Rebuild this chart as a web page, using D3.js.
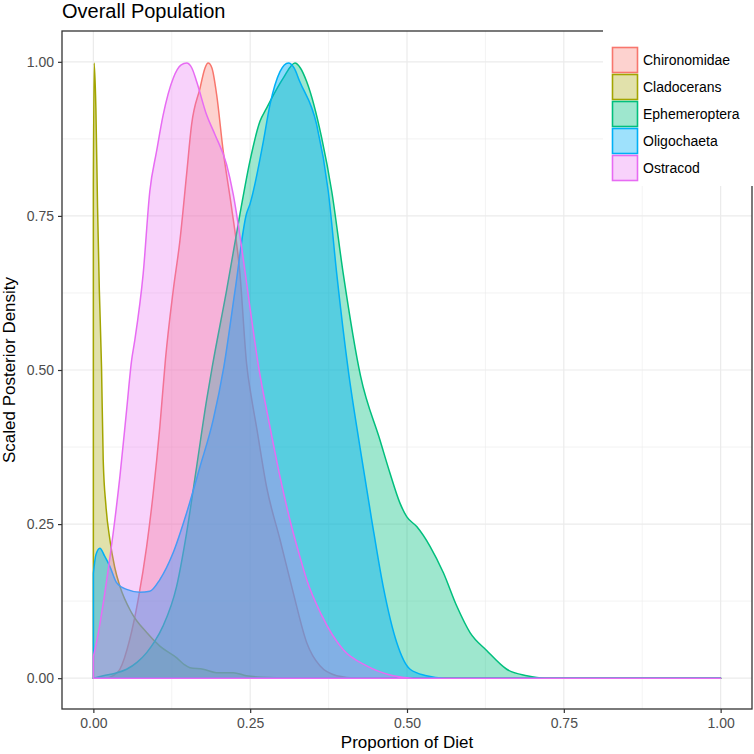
<!DOCTYPE html>
<html>
<head>
<meta charset="utf-8">
<script src="https://cdn.jsdelivr.net/npm/d3@7"></script>
<style>
  html, body { margin: 0; padding: 0; background: #fff; }
  svg { display: block; font-family: "Liberation Sans", Arial, sans-serif; }
</style>
</head>
<body>
<div id="chart"></div>
<script>
// Posterior density curves ([proportion, scaled density])
const chironomidae = [
  [0, 0], [0.02, 0], [0.0316, 0.004], [0.0423, 0.0145], [0.058, 0.063], [0.0715, 0.128],
  [0.085, 0.214], [0.0954, 0.300], [0.106, 0.408], [0.115, 0.518], [0.1273, 0.629],
  [0.138, 0.71], [0.1486, 0.817], [0.1566, 0.898], [0.170, 0.957], [0.178, 0.99],
  [0.183, 0.998], [0.189, 0.99], [0.1965, 0.947], [0.207, 0.855], [0.2204, 0.763],
  [0.2337, 0.656], [0.2443, 0.51], [0.252, 0.455], [0.260, 0.408], [0.276, 0.311],
  [0.2975, 0.225], [0.3187, 0.1385], [0.340, 0.058], [0.3612, 0.02], [0.388, 0.004],
  [0.42, 0], [1, 0]
];
const cladocerans = [
  [0, 0.8], [0.0013, 0.998], [0.004, 0.925], [0.0067, 0.763], [0.0095, 0.63],
  [0.013, 0.505], [0.0157, 0.354], [0.020, 0.28], [0.0263, 0.225], [0.034, 0.18],
  [0.0423, 0.149], [0.061, 0.106], [0.085, 0.074], [0.106, 0.052], [0.133, 0.033],
  [0.145, 0.022], [0.154, 0.017], [0.175, 0.0145], [0.196, 0.009], [0.223, 0.009],
  [0.244, 0.004], [0.28, 0.001], [0.33, 0], [1, 0]
];
const ephemeroptera = [
  [0, 0], [0.0157, 0.004], [0.035, 0.008], [0.053, 0.0145], [0.07, 0.026], [0.085, 0.0415],
  [0.098, 0.06], [0.111, 0.0845], [0.1327, 0.149], [0.1486, 0.2355], [0.1646, 0.343],
  [0.1805, 0.451], [0.1895, 0.505], [0.2124, 0.629], [0.2337, 0.753], [0.2496, 0.839],
  [0.2656, 0.9035], [0.2762, 0.925], [0.2975, 0.965], [0.3027, 0.9735], [0.3214, 0.998],
  [0.330, 0.99], [0.340, 0.968], [0.364, 0.8765], [0.380, 0.790], [0.3984, 0.656],
  [0.426, 0.49], [0.457, 0.386], [0.4729, 0.3325], [0.4888, 0.284], [0.4995, 0.262],
  [0.5155, 0.246], [0.5367, 0.214], [0.558, 0.171], [0.5793, 0.117], [0.6005, 0.074],
  [0.627, 0.045], [0.659, 0.0145], [0.691, 0.004], [0.72, 0], [1, 0]
];
const oligochaeta = [
  [0, 0.17], [0.004, 0.2], [0.0104, 0.211], [0.018, 0.198], [0.0263, 0.1815],
  [0.037, 0.155], [0.053, 0.144], [0.074, 0.1395], [0.090, 0.141], [0.106, 0.16],
  [0.127, 0.203], [0.1486, 0.268], [0.170, 0.343], [0.191, 0.419], [0.208, 0.505],
  [0.226, 0.63], [0.244, 0.753], [0.2496, 0.769], [0.271, 0.871], [0.2815, 0.930],
  [0.2975, 0.984], [0.311, 0.998], [0.320, 0.99], [0.329, 0.968], [0.356, 0.898],
  [0.3745, 0.790], [0.388, 0.656], [0.4064, 0.4995], [0.425, 0.375], [0.4437, 0.257],
  [0.462, 0.149], [0.4836, 0.058], [0.505, 0.0145], [0.531, 0.004], [0.56, 0], [1, 0]
];
const ostracod = [
  [0, 0.035], [0.005, 0.058], [0.0183, 0.1385], [0.0316, 0.2355], [0.0423, 0.327],
  [0.053, 0.435], [0.061, 0.516], [0.066, 0.548], [0.0794, 0.656], [0.090, 0.790],
  [0.1008, 0.855], [0.1113, 0.914], [0.1273, 0.9735], [0.140, 0.995], [0.1486, 0.998],
  [0.157, 0.99], [0.1646, 0.968], [0.1805, 0.914], [0.1938, 0.882], [0.2124, 0.8335],
  [0.223, 0.785], [0.2364, 0.699], [0.2496, 0.602], [0.263, 0.508], [0.2815, 0.408],
  [0.2975, 0.327], [0.3187, 0.2355], [0.329, 0.198], [0.340, 0.16], [0.3635, 0.103],
  [0.3984, 0.046], [0.4357, 0.02], [0.478, 0.004], [0.51, 0], [1, 0]
];

const groups = ['Chironomidae', 'Cladocerans', 'Ephemeroptera', 'Oligochaeta', 'Ostracod'];
const groupData = [chironomidae, cladocerans, ephemeroptera, oligochaeta, ostracod];
const groupColors = ['#F8766D', '#A3A500', '#00BF7D', '#00B0F6', '#E76BF3'];
// fill strength per group, tuned against the reference overlaps
const fillAlpha = [0.33, 0.33, 0.38, 0.45, 0.3];

const xTicks = [0, 0.25, 0.5, 0.75, 1];
const yTicks = [0, 0.25, 0.5, 0.75, 1];
const minorTicks = [0.125, 0.375, 0.625, 0.875];

const W = 754, H = 754;
const panel = { left: 62, top: 31, right: 752, bottom: 709 };

const svg = d3.select('#chart').append('svg')
  .attr('width', W).attr('height', H)
  .attr('viewBox', `0 0 ${W} ${H}`);

const x = d3.scaleLinear().domain([-0.05, 1.05]).range([panel.left, panel.right]);
const y = d3.scaleLinear().domain([-0.05, 1.05]).range([panel.bottom, panel.top]);

// Panel background + grid
svg.append('rect')
  .attr('x', panel.left).attr('y', panel.top)
  .attr('width', panel.right - panel.left).attr('height', panel.bottom - panel.top)
  .attr('fill', '#fff');

const grid = svg.append('g');
minorTicks.forEach(t => {
  grid.append('line')
    .attr('x1', x(t)).attr('x2', x(t)).attr('y1', panel.top).attr('y2', panel.bottom)
    .attr('stroke', '#EBEBEB').attr('stroke-width', 0.6);
  grid.append('line')
    .attr('y1', y(t)).attr('y2', y(t)).attr('x1', panel.left).attr('x2', panel.right)
    .attr('stroke', '#EBEBEB').attr('stroke-width', 0.6);
});
xTicks.forEach(t => {
  grid.append('line')
    .attr('x1', x(t)).attr('x2', x(t)).attr('y1', panel.top).attr('y2', panel.bottom)
    .attr('stroke', '#EBEBEB').attr('stroke-width', 1.2);
});
yTicks.forEach(t => {
  grid.append('line')
    .attr('y1', y(t)).attr('y2', y(t)).attr('x1', panel.left).attr('x2', panel.right)
    .attr('stroke', '#EBEBEB').attr('stroke-width', 1.2);
});

// Density polygons: fill then full outline, drawn in group order
const area = d3.area()
  .x(d => x(d[0]))
  .y0(y(0))
  .y1(d => y(d[1]))
  .curve(d3.curveMonotoneX);

svg.append('clipPath').attr('id', 'panel-clip')
  .append('rect')
  .attr('x', panel.left).attr('y', panel.top)
  .attr('width', panel.right - panel.left).attr('height', panel.bottom - panel.top);
const plot = svg.append('g')
  .attr('clip-path', 'url(#panel-clip)');

groupData.forEach((pts, i) => {
  plot.append('path')
    .datum(pts)
    .attr('d', d => area(d) + 'Z')
    .attr('fill', groupColors[i])
    .attr('fill-opacity', fillAlpha[i])
    .attr('stroke', groupColors[i])
    .attr('stroke-width', 1.5)
    .attr('stroke-linejoin', 'round');
});

// Panel border
svg.append('rect')
  .attr('x', panel.left).attr('y', panel.top)
  .attr('width', panel.right - panel.left).attr('height', panel.bottom - panel.top)
  .attr('fill', 'none').attr('stroke', '#333333').attr('stroke-width', 1.3);

// Axes
const xAxis = svg.append('g')
  .attr('transform', `translate(0, ${panel.bottom})`)
  .call(d3.axisBottom(x).tickValues(xTicks).tickFormat(d3.format('.2f')).tickSize(4).tickPadding(5));
const yAxis = svg.append('g')
  .attr('transform', `translate(${panel.left}, 0)`)
  .call(d3.axisLeft(y).tickValues(yTicks).tickFormat(d3.format('.2f')).tickSize(4).tickPadding(4));

[xAxis, yAxis].forEach(a => {
  a.select('.domain').remove();
  a.selectAll('.tick line').attr('stroke', '#333333').attr('stroke-width', 1.2);
  a.selectAll('.tick text')
    .attr('fill', '#4D4D4D')
    .attr('font-size', '14px')
    .attr('font-family', '"Liberation Sans", Arial, sans-serif');
});

// Titles
svg.append('text')
  .attr('x', panel.left).attr('y', 18)
  .attr('font-size', '20px').attr('fill', '#000')
  .text('Overall Population');

svg.append('text')
  .attr('x', (panel.left + panel.right) / 2).attr('y', 748)
  .attr('text-anchor', 'middle')
  .attr('font-size', '17px').attr('fill', '#000')
  .text('Proportion of Diet');

svg.append('text')
  .attr('transform', `translate(15, ${(panel.top + panel.bottom) / 2}) rotate(-90)`)
  .attr('text-anchor', 'middle')
  .attr('font-size', '17px').attr('fill', '#000')
  .text('Scaled Posterior Density');

// Legend (inside top-right, white box)
const legend = svg.append('g');
legend.append('rect')
  .attr('x', 603).attr('y', 30)
  .attr('width', W - 603).attr('height', 156)
  .attr('fill', '#fff');

const keyH = 27;
groups.forEach((name, i) => {
  const ky = 47 + i * keyH;
  legend.append('rect')
    .attr('x', 612.5).attr('y', ky + 0.5)
    .attr('width', 25).attr('height', 25)
    .attr('fill', groupColors[i]).attr('fill-opacity', Math.min(fillAlpha[i], 0.38))
    .attr('stroke', groupColors[i]).attr('stroke-width', 1.6);
  legend.append('text')
    .attr('x', 643).attr('y', ky + 18)
    .attr('font-size', '14px').attr('fill', '#000')
    .text(name);
});
</script>
</body>
</html>
